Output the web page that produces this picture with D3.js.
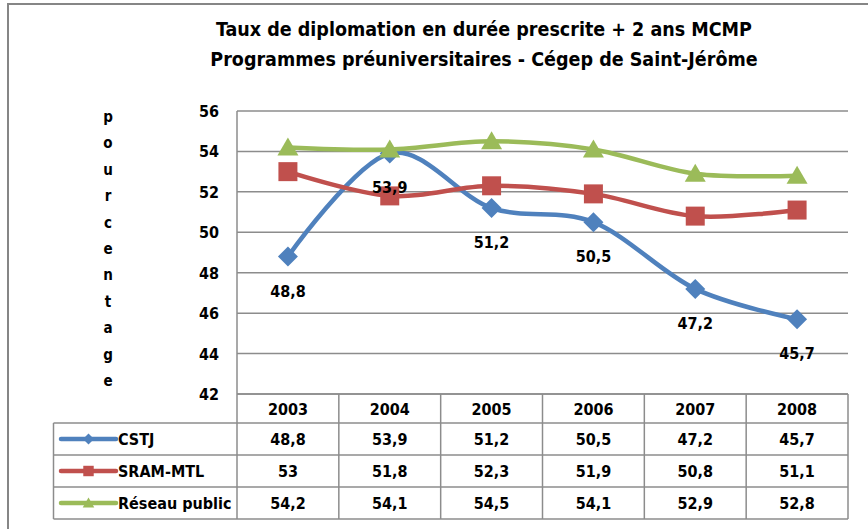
<!DOCTYPE html>
<html lang="fr">
<head>
<meta charset="UTF-8">
<title>Taux de diplomation</title>
<script src="https://d3js.org/d3.v7.min.js"></script>
<style>
  body { margin: 0; padding: 0; background: #fff; }
  svg text { font-family: "DejaVu Sans Condensed", "DejaVu Sans", sans-serif; font-weight: bold; fill: #000; }
</style>
</head>
<body>
<div id="chart"></div>
<script>
const years = ["2003", "2004", "2005", "2006", "2007", "2008"];
const cstj = [48.8, 53.9, 51.2, 50.5, 47.2, 45.7];
const sram = [53, 51.8, 52.3, 51.9, 50.8, 51.1];
const reseau = [54.2, 54.1, 54.5, 54.1, 52.9, 52.8];
const seriesNames = ["CSTJ", "SRAM-MTL", "Réseau public"];
const yTicks = [42, 44, 46, 48, 50, 52, 54, 56];
const titleLines = ["Taux de diplomation en durée prescrite + 2 ans MCMP",
                    "Programmes préuniversitaires - Cégep de Saint-Jérôme"];
const yLabel = "pourcentage";

const width = 868, height = 529;
const colors = ["#4F81BD", "#C0504D", "#9BBB59"];
const markers = ["diamond", "square", "triangle"];
const seriesData = [cstj, sram, reseau];

const svg = d3.select("#chart").append("svg")
    .attr("width", width).attr("height", height);

// chart border
svg.append("rect")
    .attr("x", 8).attr("y", 4)
    .attr("width", 880).attr("height", 540)
    .attr("fill", "#fff").attr("stroke", "#868686").attr("stroke-width", 2);

const x = d3.scaleBand().domain(years).range([237, 848]);
const y = d3.scaleLinear().domain([42, 56]).range([394, 111]);
const cx = d => x(d) + x.bandwidth() / 2;

// title
svg.append("g").selectAll("text")
    .data(titleLines).join("text")
    .attr("x", 484).attr("y", (d, i) => 36 + i * 30)
    .attr("text-anchor", "middle")
    .attr("font-size", 19.5)
    .text(d => d);

// grid lines
svg.append("g").selectAll("line")
    .data(yTicks).join("line")
    .attr("x1", 237).attr("x2", 848)
    .attr("y1", d => y(d)).attr("y2", d => y(d))
    .attr("stroke", "#8c8c8c").attr("stroke-width", 1.5);

// y tick labels
svg.append("g").selectAll("text")
    .data(yTicks).join("text")
    .attr("x", 219).attr("y", d => y(d) + 6)
    .attr("text-anchor", "end")
    .attr("font-size", 16)
    .text(d => d);

// vertical y title, one letter per line
svg.append("g").selectAll("text")
    .data(yLabel.split("")).join("text")
    .attr("x", 108).attr("y", (d, i) => 122 + i * 26.4)
    .attr("text-anchor", "middle")
    .attr("font-size", 15)
    .text(d => d);

// data table
const rowTop = [394, 423, 455, 487, 519];
const tableLeft = 53.5;
const grid = svg.append("g").attr("stroke", "#8c8c8c").attr("stroke-width", 1.5);
// horizontal lines
rowTop.forEach((ry, i) => {
  grid.append("line")
    .attr("x1", i === 0 ? 237 : tableLeft).attr("x2", 848)
    .attr("y1", ry).attr("y2", ry);
});
// vertical lines
const colEdges = years.map(d => x(d)).concat([x.range()[1]]);
colEdges.forEach((ex, i) => {
  grid.append("line")
    .attr("x1", ex).attr("x2", ex)
    .attr("y1", i === 0 ? 111 : 394).attr("y2", 519);
});
grid.append("line")
  .attr("x1", tableLeft).attr("x2", tableLeft)
  .attr("y1", 423).attr("y2", 519);

// header years
svg.append("g").selectAll("text")
    .data(years).join("text")
    .attr("x", d => cx(d)).attr("y", 415)
    .attr("text-anchor", "middle")
    .attr("font-size", 16)
    .text(d => d);

// table values
const fmt = v => String(v).replace(".", ",");
seriesData.forEach((vals, si) => {
  const rowMid = (rowTop[si + 1] + rowTop[si + 2]) / 2;
  svg.append("g").selectAll("text")
    .data(vals).join("text")
    .attr("x", (d, i) => cx(years[i])).attr("y", rowMid + 6)
    .attr("text-anchor", "middle")
    .attr("font-size", 16)
    .text(d => fmt(d));
});

function markerPath(type, s) {
  if (type === "diamond") return `M0,${-s}L${s},0L0,${s}L${-s},0Z`;
  if (type === "square") return `M${-s},${-s}H${s}V${s}H${-s}Z`;
  return `M0,${-s}L${s * 1.05},${s * 0.8}H${-s * 1.05}Z`;
}
const markerSize = [10, 9.5, 10];

// legend keys in table
seriesNames.forEach((name, si) => {
  const rowMid = (rowTop[si + 1] + rowTop[si + 2]) / 2;
  const g = svg.append("g");
  g.append("line")
    .attr("x1", 61).attr("x2", 116)
    .attr("y1", rowMid).attr("y2", rowMid)
    .attr("stroke", colors[si]).attr("stroke-width", 4.5)
    .attr("stroke-linecap", "round");
  g.append("path")
    .attr("transform", `translate(88.5,${rowMid})`)
    .attr("d", markerPath(markers[si], markerSize[si] * 0.55))
    .attr("fill", colors[si]);
  g.append("text")
    .attr("x", 118).attr("y", rowMid + 6)
    .attr("font-size", 16)
    .text(name);
});

// lines
const line = d3.line()
    .x((d, i) => cx(years[i]))
    .y(d => y(d))
    .curve(d3.curveCardinal.tension(0));

seriesData.forEach((vals, si) => {
  const g = svg.append("g");
  g.append("path")
    .datum(vals)
    .attr("d", line)
    .attr("fill", "none")
    .attr("stroke", colors[si])
    .attr("stroke-width", 4.5);
  g.selectAll("path.m")
    .data(vals).join("path")
    .attr("class", "m")
    .attr("transform", (d, i) => `translate(${cx(years[i])},${y(d)})`)
    .attr("d", markerPath(markers[si], markerSize[si]))
    .attr("fill", colors[si]);
});

// data labels for CSTJ
svg.append("g").selectAll("text")
    .data(cstj).join("text")
    .attr("x", (d, i) => cx(years[i])).attr("y", d => y(d) + 40)
    .attr("text-anchor", "middle")
    .attr("font-size", 16)
    .text(d => fmt(d));
</script>
</body>
</html>
